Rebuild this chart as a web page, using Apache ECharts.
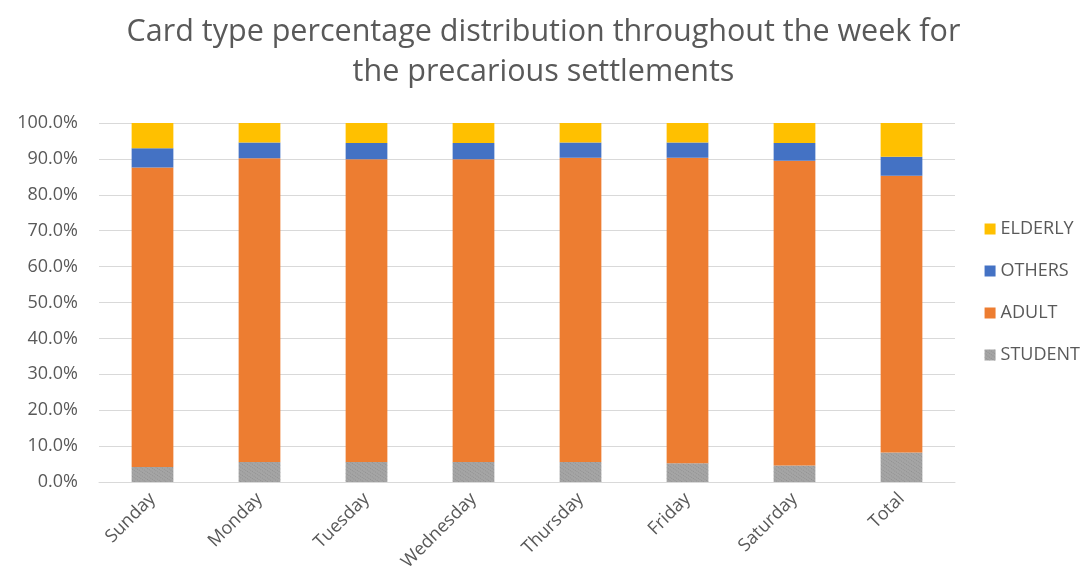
<!DOCTYPE html>
<html>
<head>
<meta charset="utf-8">
<script src="https://cdn.jsdelivr.net/npm/echarts@6/dist/echarts.min.js"></script>
<style>
  html, body { margin: 0; padding: 0; background: #ffffff; }
  #chart { width: 1087px; height: 583px; }
</style>
</head>
<body>
<div id="chart"></div>
<script>
// Days of the week plus the overall total
const categories = ['Sunday', 'Monday', 'Tuesday', 'Wednesday', 'Thursday', 'Friday', 'Saturday', 'Total'];

// Share of each card type (%) per day
const student = [4.2, 5.6, 5.6, 5.6, 5.6, 5.2, 4.6, 8.2];
const adult   = [83.4, 84.6, 84.3, 84.3, 84.7, 85.1, 84.9, 77.1];
const others  = [5.4, 4.4, 4.5, 4.5, 4.3, 4.3, 4.9, 5.3];
const elderly = [7.0, 5.4, 5.6, 5.6, 5.4, 5.4, 5.6, 9.4];

const yTicks = [0, 10, 20, 30, 40, 50, 60, 70, 80, 90, 100];

const textGrey = '#595959';
const font = '"Open Sans", "Noto Sans", sans-serif';

const chart = echarts.init(document.getElementById('chart'), null, { renderer: 'canvas' });

const barCommon = {
  type: 'bar',
  stack: 'total',
  barWidth: '39%',
  emphasis: { disabled: true }
};

chart.setOption({
  animation: false,
  backgroundColor: '#ffffff',
  title: {
    text: 'Card type percentage distribution throughout the week for\nthe precarious settlements',
    left: 'center',
    top: 7,
    textStyle: {
      color: textGrey,
      fontFamily: font,
      fontSize: 30.5,
      fontWeight: 'normal',
      lineHeight: 40
    }
  },
  legend: {
    orient: 'vertical',
    right: 2,
    top: 213,
    itemGap: 20,
    itemWidth: 11,
    itemHeight: 11,
    icon: 'rect',
    data: ['ELDERLY', 'OTHERS', 'ADULT', 'STUDENT'],
    textStyle: { color: textGrey, fontFamily: font, fontSize: 18, lineHeight: 22 }
  },
  grid: { left: 99, right: 132, top: 123, bottom: 101, containLabel: false },
  xAxis: {
    type: 'category',
    data: categories,
    axisLine: { lineStyle: { color: '#d9d9d9', width: 1 } },
    axisTick: { show: false },
    axisLabel: {
      rotate: 45,
      color: textGrey,
      fontFamily: font,
      fontSize: 18,
      margin: 14
    }
  },
  yAxis: {
    type: 'value',
    min: yTicks[0],
    max: yTicks[yTicks.length - 1],
    interval: 10,
    axisLine: { show: false },
    axisTick: { show: false },
    splitLine: { lineStyle: { color: '#d9d9d9', width: 1 } },
    axisLabel: {
      color: textGrey,
      fontFamily: font,
      fontSize: 18,
      margin: 21,
      formatter: v => v.toFixed(1) + '%'
    }
  },
  series: [
    Object.assign({}, barCommon, {
      name: 'STUDENT',
      data: student,
      itemStyle: {
        color: '#a5a5a5',
        decal: {
          symbol: 'rect',
          symbolSize: 1,
          color: 'rgba(130,130,130,0.55)',
          dashArrayX: [1, 1],
          dashArrayY: [1, 2],
          rotation: 0.6
        }
      }
    }),
    Object.assign({}, barCommon, { name: 'ADULT', data: adult, itemStyle: { color: '#ed7d31' } }),
    Object.assign({}, barCommon, { name: 'OTHERS', data: others, itemStyle: { color: '#4472c4' } }),
    Object.assign({}, barCommon, { name: 'ELDERLY', data: elderly, itemStyle: { color: '#ffc000' } })
  ]
});
</script>
</body>
</html>
